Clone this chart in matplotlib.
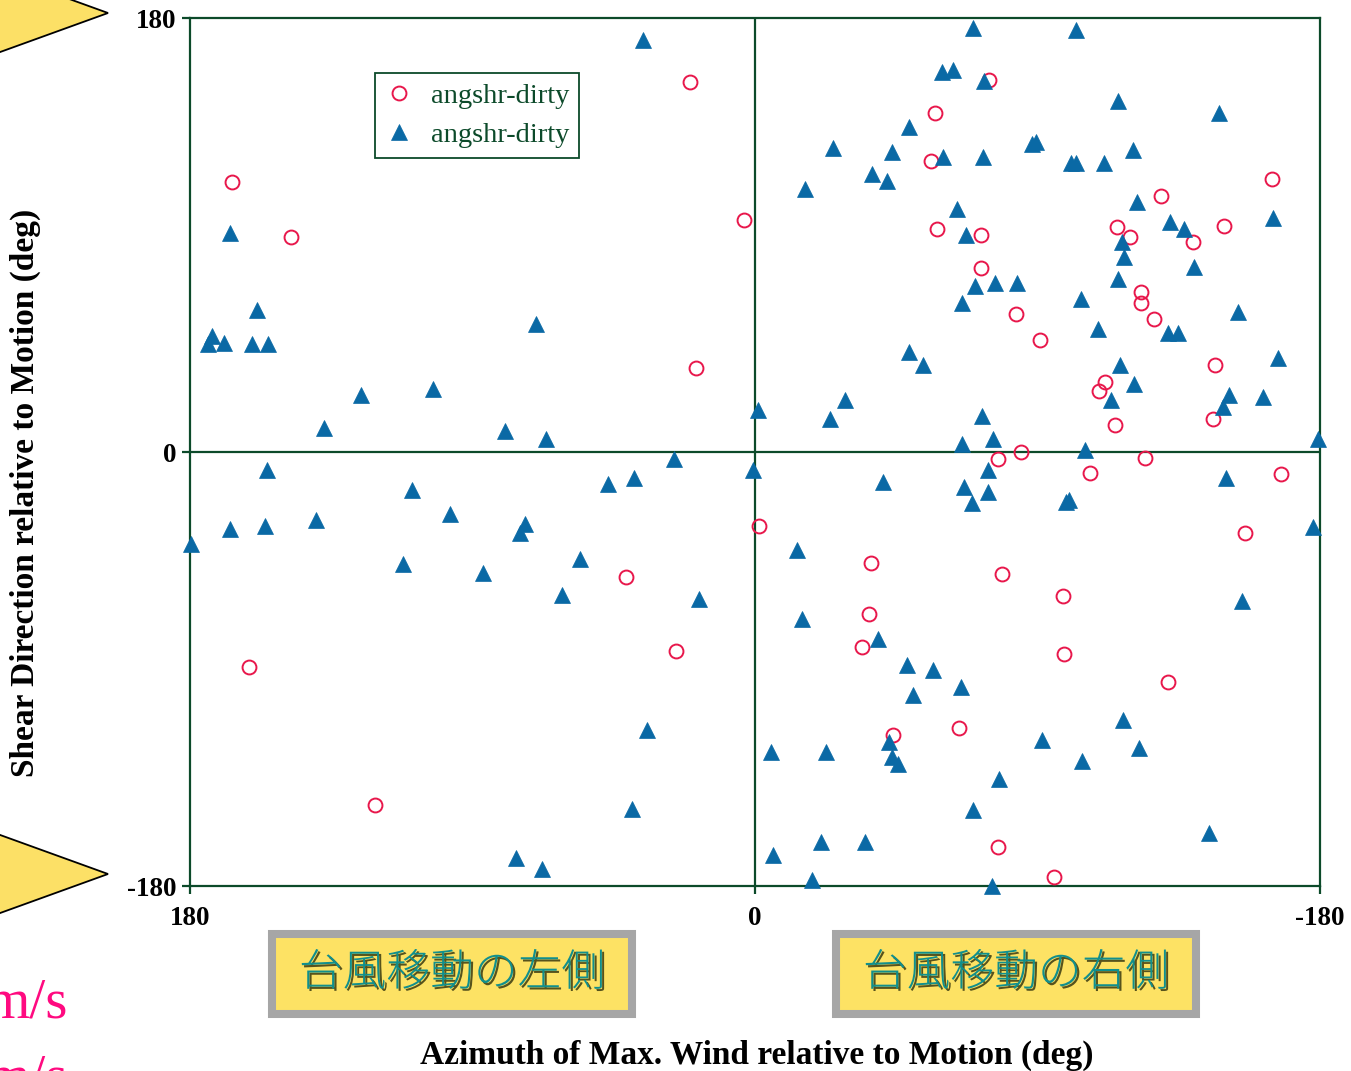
import matplotlib
matplotlib.use("Agg")
import matplotlib.pyplot as plt
from matplotlib.patches import Polygon, Rectangle
import matplotlib.patheffects as pe

# ---- data: (azimuth of max wind, shear direction), degrees relative to motion ----
circle_x = [20.6, 166.5, 147.7, 3.5, 18.8,
            -74.5, -57.5, -56.2, -164.6, -129.4, -58.1, -72.0, -115.4, -119.5, -139.4,
            -149.3, -72.0, -122.9, -122.9, -127.2, -83.2, -90.8, -146.5, -111.4, -109.5,
            -114.7, -145.8, -84.9,
            -77.4, -124.4, -106.7, -167.7, -1.2, -156.0, -37.1, -78.7, -98.0, -36.4,
            -34.0, -98.6, -131.5, -65.1, -44.1, -77.5, -95.1,
            41.2, 25.3, 161.2, 121.1]
circle_y = [153.4, 112.0, 89.3, 96.2, 35.0,
            154.4, 140.5, 120.5, 113.1, 106.2, 92.5, 90.0, 93.2, 89.3, 87.0,
            93.9, 76.4, 66.5, 61.6, 55.0, 57.3, 46.4, 35.9, 29.1, 25.2,
            11.4, 13.7, 0.0,
            -3.0, -2.4, -8.6, -9.3, -30.7, -33.7, -45.9, -50.5, -59.6, -67.2,
            -81.0, -83.9, -95.4, -114.3, -117.5, -164.0, -176.3,
            -51.8, -82.4, -89.3, -146.5]

tri_x = [35.7, 167.3, 158.6, 174.3, 172.9, 169.1, 160.2, 155.0, 69.8, 125.6,
         102.7, 137.3, 79.7, 66.7, -0.8,
         -69.5, -102.2, -59.5, -63.1, -72.9, -115.6, -147.9, -49.1, -24.9, -43.8,
         -60.0, -72.5, -88.2, -89.4, -100.7, -102.4, -111.1, -120.4, -15.8, -37.3,
         -42.0, -64.2, -67.2, -121.6, -132.1, -136.8, -116.9, -117.5, -139.8, -115.6,
         -164.9, -70.0, -76.5, -83.5, -66.0, -104.0, -109.2, -153.8, -131.5, -134.7,
         -49.1, -53.6, -116.2, -120.9, -166.7, -28.6, -23.8, -113.4, -150.9, -149.2,
         -161.9, -72.4, -75.9, -66.0, -105.2, -179.5,
         0.5, -40.9, -74.2, -66.6, -74.2, -69.0, -99.2, -100.0, -150.0, -177.9,
         -13.3, -15.1, -39.1, -155.1, -48.4, -56.7, -65.5, -50.3, -117.1, -91.3,
         -122.4, -5.2, -22.7, -42.6, -43.7, -45.6, -104.1, -77.7, -69.6, -144.7,
         -5.8, -21.0, -35.0, -18.0, -75.5,
         25.7, 155.6, 109.2, 46.7, 38.5, 97.3, 73.2, 75.0, 167.3, 156.2,
         139.7, 179.8, 112.1, 86.8, 55.6, 61.5, 18.0, 34.4, 39.1, 76.2, 68.0]
tri_y = [171.0, 91.0, 59.1, 45.0, 48.0, 45.3, 44.6, 44.6, 52.9, 23.8,
         26.0, 10.1, 8.6, 5.5, 17.3,
         175.8, 174.9, 157.6, 158.3, 153.7, 145.4, 140.8, 134.6, 126.0, 124.6,
         122.3, 122.3, 127.7, 128.4, 119.8, 119.8, 119.8, 125.3, 109.1, 115.3,
         112.2, 100.8, 90.0, 103.8, 95.5, 92.4, 87.2, 80.7, 76.8, 71.9,
         96.9, 68.8, 69.9, 70.2, 61.9, 63.3, 51.2, 58.0, 49.2, 49.2,
         41.5, 36.0, 36.0, 28.4, 39.0, 21.7, 13.8, 21.5, 23.8, 18.7,
         22.8, 14.8, 5.5, 3.2, 1.0, 5.5,
         -7.3, -12.4, -7.6, -14.5, -16.6, -21.2, -20.7, -20.0, -10.6, -31.1,
         -40.8, -69.1, -77.7, -61.8, -88.2, -90.6, -97.5, -100.6, -111.3, -119.6,
         -122.6, -124.4, -124.4, -120.3, -126.5, -129.5, -128.2, -135.8, -148.6, -157.9,
         -167.0, -161.8, -161.8, -177.6, -180.0,
         -3.0, -7.6, -15.9, -13.4, -10.6, -25.9, -29.7, -33.6, -32.1, -30.6,
         -28.3, -38.0, -46.6, -50.2, -44.2, -59.4, -61.1, -115.2, -147.9, -168.4, -173.1]

series_names = ["angshr-dirty", "angshr-dirty"]
tick_values = [180, 0, -180]
tick_labels = ["180", "0", "-180"]
side_labels = ["台風移動の左側", "台風移動の右側"]
speed_labels = ["m/s", "m/s"]

W, H = 1351, 1071
GREEN = "#0c4a2a"
SERIF = "Liberation Serif"


def fx(px):
    return px / W


def fy(py):
    return 1 - py / H


fig = plt.figure(figsize=(W / 100, H / 100), dpi=100)
fig.patch.set_facecolor("white")

ax = fig.add_axes([fx(190), fy(886), fx(1320) - fx(190), fy(18) - fy(886)])
ax.set_xlim(180, -180)
ax.set_ylim(-180, 180)

for s in ax.spines.values():
    s.set_color(GREEN)
    s.set_linewidth(1.6)

ax.axhline(0, color=GREEN, lw=1.6, zorder=1)
ax.axvline(0, color=GREEN, lw=1.6, zorder=1)

ax.plot(circle_x, circle_y, linestyle="none", marker="o", markersize=10,
        markerfacecolor="none", markeredgecolor="#e8174b", markeredgewidth=1.4,
        label=series_names[0], clip_on=False, zorder=3)
ax.plot(tri_x, tri_y, linestyle="none", marker="^", markersize=11.5,
        markerfacecolor="#0a69a5", markeredgecolor="#0a69a5", markeredgewidth=0.5,
        label=series_names[1], clip_on=False, zorder=3)

ax.set_xticks(tick_values)
ax.set_xticklabels(tick_labels)
ax.set_yticks(tick_values)
ax.set_yticklabels(tick_labels)
ax.tick_params(axis="both", direction="out", length=5.5, width=1.6, color=GREEN,
               labelsize=19.5)
ax.tick_params(axis="x", pad=9)
ax.tick_params(axis="y", pad=4)
for lab in ax.get_xticklabels() + ax.get_yticklabels():
    lab.set_fontfamily(SERIF)
    lab.set_fontweight("bold")
    lab.set_color("black")

leg = ax.legend(loc="upper left", bbox_to_anchor=((375 - 190) / 1130, 1 - (73 - 18) / 868),
                frameon=True, fancybox=False, framealpha=1, edgecolor=GREEN,
                prop={"family": SERIF, "size": 20.5}, borderpad=0.35, labelspacing=0.45,
                handlelength=1.0, handletextpad=0.6, borderaxespad=0)
leg.get_frame().set_linewidth(1.3)
for t in leg.get_texts():
    t.set_color(GREEN)

fig.text(fx(757), fy(1055), "Azimuth of Max. Wind relative to Motion (deg)",
         family=SERIF, weight="bold", size=24, ha="center", va="center")
fig.text(fx(25), fy(493), "Shear Direction relative to Motion (deg)",
         family=SERIF, weight="bold", size=24, ha="center", va="center", rotation=90)

# yellow pointer triangles at the left edge
for tip_y in (13, 874):
    tri = Polygon([(fx(108), fy(tip_y)), (fx(-80), fy(tip_y - 68)), (fx(-80), fy(tip_y + 68))],
                  closed=True, facecolor="#fce066", edgecolor="black", linewidth=1.3,
                  transform=fig.transFigure, clip_on=False)
    fig.add_artist(tri)

# side labels in framed yellow boxes
for (x0, x1), text in zip([(268, 636), (832, 1200)], side_labels):
    box = Rectangle((fx(x0 + 4), fy(1014)), fx(x1 - 4) - fx(x0 + 4), fy(934) - fy(1014),
                    facecolor="#fde264", edgecolor="#a6a6a6", linewidth=5.8,
                    transform=fig.transFigure)
    fig.add_artist(box)
    fig.text(fx((x0 + x1) / 2), fy(973), text, family=["Noto Sans CJK JP", "DejaVu Sans"],
             size=31.5, weight="light", color="#118f8d", ha="center", va="center",
             path_effects=[pe.withSimplePatchShadow(offset=(1.6, -1.6), shadow_rgbFace="#3a3a10",
                                                    alpha=0.85)])

# speed units running off the lower-left edge
for baseline, text in zip([1018, 1093], speed_labels):
    fig.text(fx(68), fy(baseline), text, family=SERIF, size=41, color="#ff0a80",
             ha="right", va="baseline")

fig.savefig("out.png", dpi=100, facecolor="white")
